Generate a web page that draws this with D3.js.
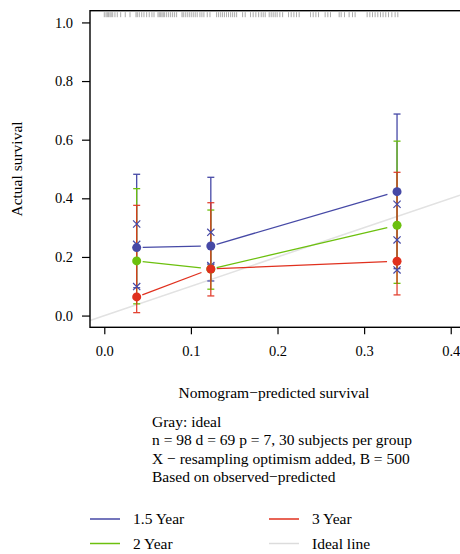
<!DOCTYPE html>
<html>
<head>
<meta charset="utf-8">
<script src="https://cdn.jsdelivr.net/npm/d3@7"></script>
<style>
  body { margin: 0; background: #fff; }
  svg text { font-family: "Liberation Serif", "DejaVu Serif", serif; }
</style>
</head>
<body>
<svg id="chart" width="460" height="554"></svg>
<script>
// predicted survival of the three groups (x position)
var groupX = [0.0374, 0.123, 0.338];

// observed survival per model
var series = ["1.5 Year", "2 Year", "3 Year"];
var observed = {
    "1.5 Year": [0.232, 0.2375, 0.4227],
    "2 Year":   [0.1864, 0.159, 0.308],
    "3 Year":   [0.0637, 0.159, 0.1854]
};
var lower = {
    "1.5 Year": [0.095, 0.118, 0.16],
    "2 Year":   [0.04, 0.09, 0.11],
    "3 Year":   [0.010, 0.067, 0.0705]
};
var upper = {
    "1.5 Year": [0.482, 0.4717, 0.6875],
    "2 Year":   [0.433, 0.36, 0.595],
    "3 Year":   [0.376, 0.385, 0.4887]
};
// bias-corrected estimates (X marks)
var corrected = {
    "1.5 Year": [0.3125, 0.284, 0.3797],
    "2 Year":   [0.243, 0.1704, 0.258],
    "3 Year":   [0.099, 0.165, 0.1557]
};
var colors = {"1.5 Year": "#4649a6", "2 Year": "#6cc00e", "3 Year": "#e0301e"};

// rug of individual predictions along the top
var rug = [0.000, 0.002, 0.0035, 0.005, 0.0066, 0.008, 0.0097, 0.0123, 0.015, 0.0189,
    0.0242, 0.0297, 0.0366, 0.0381, 0.0404, 0.0432, 0.0458, 0.0489, 0.0519, 0.055,
    0.0574, 0.062, 0.0635, 0.0651, 0.0666, 0.0681, 0.0697, 0.072, 0.0743, 0.0766,
    0.0789, 0.0812, 0.0835, 0.0897, 0.0912, 0.0935, 0.0958, 0.0981, 0.1004, 0.1027,
    0.105, 0.1073, 0.1104, 0.1127, 0.115, 0.1189, 0.122, 0.1297, 0.132, 0.1344,
    0.1366, 0.1389, 0.1412, 0.1435, 0.1459, 0.1482, 0.1505, 0.1528, 0.1597, 0.1627,
    0.1689, 0.1719, 0.175, 0.1782, 0.1812, 0.1835, 0.1858, 0.1904, 0.1927, 0.195,
    0.1973, 0.1996, 0.2027, 0.2059, 0.2128, 0.2158, 0.2189, 0.222, 0.225, 0.2382,
    0.2412, 0.2443, 0.2474, 0.255, 0.2581, 0.2612, 0.2712, 0.2735, 0.2774, 0.2827,
    0.2866, 0.2896, 0.3035, 0.3066, 0.3097, 0.3127, 0.3158, 0.3189, 0.3219, 0.325,
    0.3282, 0.332, 0.3358, 0.3389];

var xTicks = [0, 0.1, 0.2, 0.3, 0.4];
var yTicks = [0, 0.2, 0.4, 0.6, 0.8, 1.0];

var notes = ["Gray: ideal",
    "n = 98 d = 69 p = 7, 30 subjects per group",
    "X \u2212 resampling optimism added, B = 500",
    "Based on observed\u2212predicted"];

var legendItems = [["1.5 Year", "#4649a6"], ["3 Year", "#e0301e"],
                   ["2 Year", "#6cc00e"], ["Ideal line", "#dcdcdc"]];

var margin = {top: 10.7, left: 90},
    width = 370,
    height = 316.6;

var svg = d3.select("#chart");
var g = svg.append("g")
    .attr("transform", "translate(" + margin.left + "," + margin.top + ")");

var x = d3.scaleLinear().domain([-0.0165, 0.4107]).range([0, width]);
var y = d3.scaleLinear().domain([-0.04, 1.04]).range([height, 0]);

// ideal line
g.append("line")
    .attr("x1", x(-0.0165)).attr("y1", y(-0.0165))
    .attr("x2", x(0.4107)).attr("y2", y(0.4107))
    .attr("stroke", "#e2e2e2").attr("stroke-width", 1.6);

// rug
g.selectAll(".rug")
    .data(rug)
    .enter().append("line")
        .attr("x1", function(d) { return x(d); })
        .attr("x2", function(d) { return x(d); })
        .attr("y1", 1.5).attr("y2", 6.5)
        .attr("stroke", "#7a7a7a").attr("stroke-width", 0.8)
        .attr("opacity", 0.8);

// error bars
series.forEach(function(s) {
    var bars = g.append("g").attr("stroke", colors[s]).attr("stroke-width", 1.3)
        .attr("opacity", s == "3 Year" ? 0.9 : 1);
    groupX.forEach(function(gx, i) {
        bars.append("line")
            .attr("x1", x(gx)).attr("x2", x(gx))
            .attr("y1", y(lower[s][i])).attr("y2", y(upper[s][i]));
        [lower[s][i], upper[s][i]].forEach(function(v) {
            bars.append("line")
                .attr("x1", x(gx) - 3.5).attr("x2", x(gx) + 3.5)
                .attr("y1", y(v)).attr("y2", y(v));
        });
    });
});

// connecting lines with a gap around the points
series.forEach(function(s) {
    var gap = 6;
    for (var i = 0; i < groupX.length - 1; i++) {
        var x1 = x(groupX[i]), y1 = y(observed[s][i]),
            x2 = x(groupX[i + 1]), y2 = y(observed[s][i + 1]);
        var len = Math.sqrt((x2 - x1) * (x2 - x1) + (y2 - y1) * (y2 - y1));
        var ux = (x2 - x1) / len, uy = (y2 - y1) / len;
        g.append("line")
            .attr("x1", x1 + ux * gap).attr("y1", y1 + uy * gap)
            .attr("x2", x2 - ux * 10).attr("y2", y2 - uy * 10)
            .attr("stroke", colors[s]).attr("stroke-width", 1.3);
    }
});

// X marks
series.forEach(function(s) {
    g.selectAll(".cx")
        .data(corrected[s])
        .enter().append("path")
            .attr("d", function(d, i) {
                var cx = x(groupX[i]), cy = y(d), r = 3.6;
                return "M" + (cx - r) + "," + (cy - r) + "L" + (cx + r) + "," + (cy + r) +
                       "M" + (cx - r) + "," + (cy + r) + "L" + (cx + r) + "," + (cy - r);
            })
            .attr("stroke", "#4649a6").attr("stroke-width", 1.2).attr("fill", "none");
});

// observed points
series.forEach(function(s) {
    g.selectAll(".pt")
        .data(observed[s])
        .enter().append("circle")
            .attr("cx", function(d, i) { return x(groupX[i]); })
            .attr("cy", function(d) { return y(d); })
            .attr("r", 4.5)
            .attr("fill", colors[s]);
});

// frame
g.append("rect")
    .attr("width", width + 1).attr("height", height)
    .attr("fill", "none").attr("stroke", "#000").attr("stroke-width", 1.4);

// axes
var xAxis = g.append("g")
    .attr("transform", "translate(0," + height + ")")
    .call(d3.axisBottom(x).tickValues(xTicks).tickFormat(d3.format(".1f"))
        .tickSize(7).tickPadding(11));
var yAxis = g.append("g")
    .call(d3.axisLeft(y).tickValues(yTicks).tickFormat(d3.format(".1f"))
        .tickSize(8).tickPadding(9));
[xAxis, yAxis].forEach(function(a) {
    a.select(".domain").remove();
    a.selectAll("line").attr("stroke", "#000").attr("stroke-width", 1.2);
    a.selectAll("text").attr("fill", "#000")
        .style("font-family", "Liberation Serif").style("font-size", "14.5px");
});

// axis titles
svg.append("text")
    .attr("transform", "translate(22," + (margin.top + height / 2) + ") rotate(-90)")
    .attr("text-anchor", "middle")
    .style("font-size", "15.5px")
    .text("Actual survival");
svg.append("text")
    .attr("x", 274).attr("y", 397.5)
    .attr("text-anchor", "middle")
    .style("font-size", "15.5px")
    .text("Nomogram\u2212predicted survival");

// notes
svg.selectAll(".note")
    .data(notes)
    .enter().append("text")
        .attr("x", 152)
        .attr("y", function(d, i) { return 427 + i * 18.3; })
        .style("font-size", "15.5px")
        .text(function(d) { return d; });

// legend
legendItems.forEach(function(item, i) {
    var lx = (i % 2 == 0) ? 90 : 269,
        ly = (i < 2) ? 519 : 543.5;
    svg.append("line")
        .attr("x1", lx).attr("x2", lx + 30)
        .attr("y1", ly).attr("y2", ly)
        .attr("stroke", item[1]).attr("stroke-width", 1.5);
    svg.append("text")
        .attr("x", lx + 43).attr("y", ly + 5)
        .style("font-size", "15.5px")
        .text(item[0]);
});
</script>
</body>
</html>
